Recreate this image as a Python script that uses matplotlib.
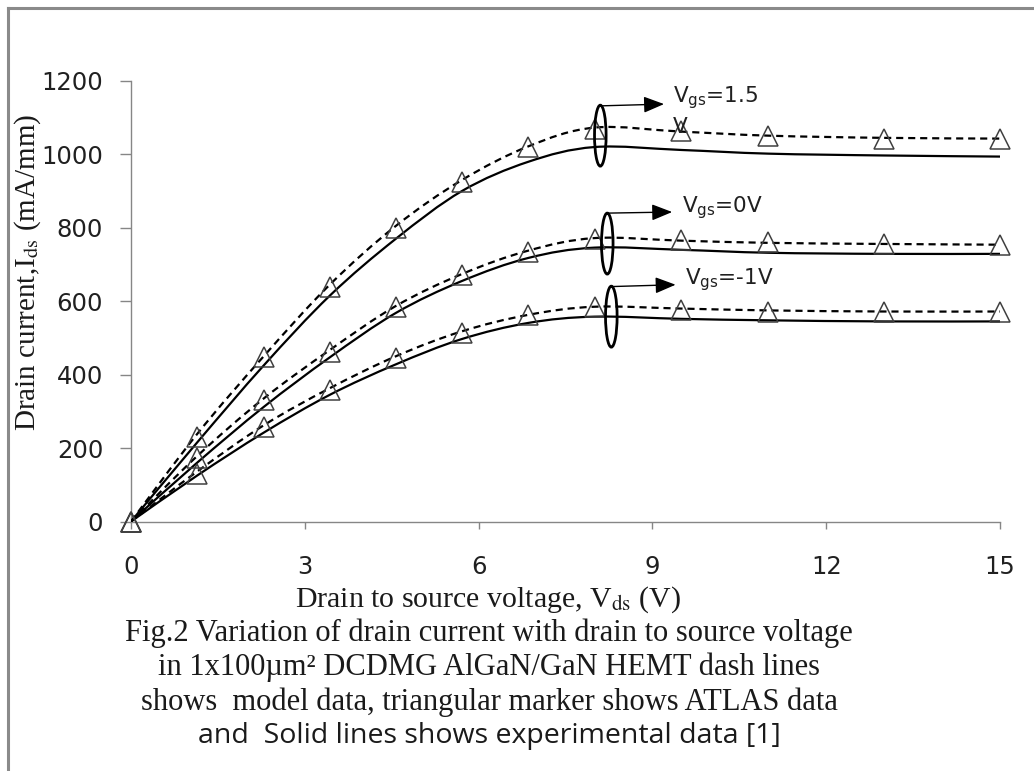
import numpy as np
import matplotlib
matplotlib.use("Agg")
import matplotlib.pyplot as plt
from matplotlib.path import Path
from matplotlib.patches import PathPatch, Ellipse
from matplotlib.lines import Line2D

# --------------------------------
# DATOS
# --------------------------------

vds = [0, 1.14, 2.29, 3.43, 4.57, 5.71, 6.86, 8.0, 9.5, 11, 13, 15]

# ATLAS (triángulos)
atlas_15 = [0, 230, 448, 640, 800, 926, 1019, 1070, 1064, 1051, 1043, 1043]
atlas_0 = [0, 172, 331, 462, 585, 672, 735, 770, 767, 760, 756, 754]
atlas_m1 = [0, 130, 258, 359, 446, 514, 563, 585, 577, 572, 571, 571]

# Modelo (líneas discontinuas)
model_15 = [0, 238, 450, 645, 805, 930, 1022, 1073, 1062, 1051, 1045, 1043]
model_0 = [0, 178, 335, 467, 587, 674, 738, 772, 765, 759, 756, 754]
model_m1 = [0, 136, 262, 363, 450, 518, 563, 585, 580, 575, 572, 572]

# Experimental (líneas continuas)
exp_15 = [0, 215, 425, 615, 770, 900, 980, 1020, 1012, 1002, 997, 994]
exp_0 = [0, 160, 312, 447, 568, 655, 718, 746, 740, 732, 729, 729]
exp_m1 = [0, 125, 242, 345, 428, 497, 541, 558, 552, 548, 545, 545]

x_ticks = [0, 3, 6, 9, 12, 15]
y_ticks = [0, 200, 400, 600, 800, 1000, 1200]

SERIF = "Liberation Serif"
SANS = "DejaVu Sans"


def smooth_path(xs, ys):
    # línea suavizada tipo Excel (Bezier por los puntos)
    pts = np.column_stack([xs, ys]).astype(float)
    n = len(pts)
    verts = [pts[0]]
    codes = [Path.MOVETO]
    for i in range(n - 1):
        p0 = pts[i - 1] if i > 0 else pts[i]
        p1 = pts[i]
        p2 = pts[i + 1]
        p3 = pts[i + 2] if i + 2 < n else pts[i + 1]
        verts += [p1 + (p2 - p0) / 6, p2 - (p3 - p1) / 6, p2]
        codes += [Path.CURVE4] * 3
    return Path(verts, codes)


# --------------------------------
# FIGURA
# --------------------------------

fig = plt.figure(figsize=(10.34, 7.71), dpi=100)
ax = fig.add_axes([0.1267, 0.3236, 0.8405, 0.5714])

for ys in (model_15, model_0, model_m1):
    ax.add_patch(PathPatch(smooth_path(vds, ys), facecolor="none",
                           edgecolor="black", lw=1.6, ls=(0, (3.2, 2.2)),
                           zorder=3))

for ys in (exp_15, exp_0, exp_m1):
    ax.add_patch(PathPatch(smooth_path(vds, ys), facecolor="none",
                           edgecolor="black", lw=1.6, zorder=3))

for ys in (atlas_15, atlas_0, atlas_m1):
    ax.plot(vds, ys, ls="none", marker="^", markersize=14,
            markerfacecolor="none", markeredgecolor="#404040",
            markeredgewidth=1.1, clip_on=False, zorder=4)

ax.set_xlim(0, 15)
ax.set_ylim(0, 1200)
ax.set_xticks(x_ticks)
ax.set_yticks(y_ticks)

for s in ("top", "right"):
    ax.spines[s].set_visible(False)
for s in ("left", "bottom"):
    ax.spines[s].set_color("#868686")
    ax.spines[s].set_linewidth(1.0)

ax.tick_params(axis="y", direction="out", length=8, width=1.0,
               color="#868686", pad=12, labelsize=17.5)
ax.tick_params(axis="x", direction="out", length=5, width=1.0,
               color="#868686", pad=19, labelsize=17.5)
for lab in ax.get_xticklabels() + ax.get_yticklabels():
    lab.set_family(SANS)
    lab.set_color("#202020")

# --------------------------------
# ELIPSES, FLECHAS Y ETIQUETAS
# --------------------------------

ellipses = [(8.10, 1051), (8.22, 757), (8.29, 558)]
for cx, cy in ellipses:
    ax.add_patch(Ellipse((cx, cy), 0.2, 166, facecolor="none",
                         edgecolor="black", lw=2.0, zorder=5))

arrows = [((8.07, 1132), (9.20, 1137)),
          ((8.22, 840), (9.34, 843)),
          ((8.31, 640), (9.40, 645))]
for start, end in arrows:
    ax.annotate("", xy=end, xytext=start,
                arrowprops=dict(arrowstyle="-|>,head_length=1.25,head_width=0.5",
                                color="black", lw=1.0, shrinkA=0, shrinkB=0),
                zorder=6)

labels = [(9.36, 1141, r"V$_{\mathrm{gs}}$=1.5"),
          (9.51, 843, r"V$_{\mathrm{gs}}$=0V"),
          (9.56, 645, r"V$_{\mathrm{gs}}$=-1V")]
for lx, ly, txt in labels:
    ax.text(lx, ly, txt, fontsize=15.5, family=SANS, color="#202020",
            va="baseline", ha="left", math_fontfamily="dejavusans", zorder=6)
ax.text(9.36, 1059, "V", fontsize=15.5, family=SANS, color="#202020",
        va="baseline", ha="left", zorder=6)

# --------------------------------
# TEXTOS DE EJES Y PIE DE FIGURA
# --------------------------------

fig.text(28 / 1034, 1 - 272 / 771, r"Drain current,I$_{\mathrm{ds}}$ (mA/mm)",
         rotation=90, ha="center", va="center", fontsize=21, family=SERIF,
         math_fontfamily="stix", color="#1a1a1a")

fig.text(488 / 1034, 1 - 600 / 771,
         r"Drain to source voltage, V$_{\mathrm{ds}}$ (V)",
         ha="center", va="center", fontsize=21.5, family=SERIF,
         math_fontfamily="stix", color="#1a1a1a")

caption = [
    ("Fig.2 Variation of drain current with drain to source voltage", SERIF, 633),
    ("in 1x100µm² DCDMG AlGaN/GaN HEMT dash lines", SERIF, 667),
    ("shows  model data, triangular marker shows ATLAS data", SERIF, 702),
    ("and  Solid lines shows experimental data [1]", "Open Sans", 736),
]
for txt, fam, ypix in caption:
    fig.text(489 / 1034, 1 - ypix / 771, txt, ha="center", va="center",
             fontsize=22 if fam == SERIF else 20.5, family=fam,
             color="#1a1a1a")

# marco gris
fig.add_artist(Line2D([8 / 1034, 1.0], [1 - 8 / 771, 1 - 8 / 771],
                      transform=fig.transFigure, color="#8a8a8a", lw=2.2))
fig.add_artist(Line2D([8 / 1034, 8 / 1034], [0.0, 1 - 8 / 771],
                      transform=fig.transFigure, color="#8a8a8a", lw=2.2))

fig.savefig("out.png", dpi=100)
